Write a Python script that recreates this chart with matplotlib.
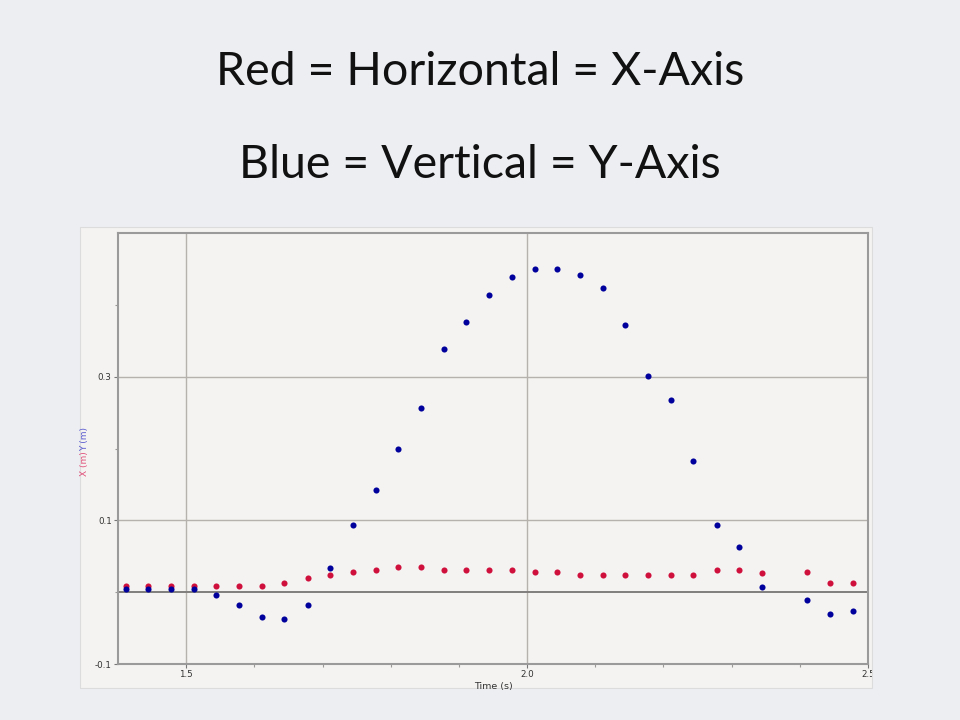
import matplotlib
matplotlib.use("Agg")
import matplotlib.pyplot as plt
from matplotlib.patches import Rectangle
from matplotlib.ticker import FixedLocator

# ---- data ----
time_s = [1.411, 1.444, 1.478, 1.511, 1.544, 1.578, 1.611, 1.644, 1.678, 1.711,
          1.744, 1.778, 1.811, 1.844, 1.878, 1.911, 1.944, 1.978, 2.011, 2.044,
          2.078, 2.111, 2.144, 2.178, 2.211, 2.244, 2.278, 2.311, 2.344, 2.411,
          2.444, 2.478]
x_m = [0.009, 0.009, 0.009, 0.009, 0.009, 0.009, 0.009, 0.013, 0.020, 0.024,
       0.028, 0.0315, 0.035, 0.035, 0.0315, 0.0315, 0.0315, 0.0315, 0.028, 0.028,
       0.024, 0.024, 0.024, 0.024, 0.024, 0.024, 0.0315, 0.0315, 0.027, 0.028,
       0.013, 0.013]
y_m = [0.004, 0.004, 0.004, 0.004, -0.004, -0.0185, -0.034, -0.037, -0.0185, 0.033,
       0.093, 0.142, 0.200, 0.256, 0.338, 0.376, 0.413, 0.439, 0.450, 0.450,
       0.442, 0.424, 0.372, 0.301, 0.268, 0.182, 0.093, 0.063, 0.007, -0.011,
       -0.030, -0.026]

x_major = [1.5, 2.0, 2.5]
x_minor = [1.6, 1.7, 1.8, 1.9, 2.1, 2.2, 2.3, 2.4]
y_major = [-0.1, 0.1, 0.3]
y_minor = [0.0, 0.2, 0.4]

title1 = "Red = Horizontal = X-Axis"
title2 = "Blue = Vertical = Y-Axis"

# ---- figure ----
fig = plt.figure(figsize=(9.6, 7.2), dpi=100)
fig.patch.set_facecolor("#eceef2")

panel = Rectangle((80 / 960, 1 - 688 / 720), 792 / 960, 461 / 720,
                  transform=fig.transFigure, facecolor="#f4f3f1",
                  edgecolor="#dcdcdc", linewidth=0.8, zorder=-10)
fig.patches.append(panel)

fig.text(0.5, 1 - 72 / 720, title1, ha="center", va="center",
         fontsize=33.5, family="Lato", color="#111111")
fig.text(0.5, 1 - 165 / 720, title2, ha="center", va="center",
         fontsize=33.5, family="Lato", color="#111111")

ax = fig.add_axes([118 / 960, 1 - 664 / 720, 750 / 960, 431 / 720])
ax.set_zorder(1)
ax.set_facecolor("#f4f3f1")
ax.set_xlim(1.4, 2.5)
ax.set_ylim(-0.1, 0.5)

for s in ax.spines.values():
    s.set_color("#9a9a9a")
    s.set_linewidth(1.5)

ax.xaxis.set_major_locator(FixedLocator(x_major))
ax.xaxis.set_minor_locator(FixedLocator(x_minor))
ax.yaxis.set_major_locator(FixedLocator(y_major))
ax.yaxis.set_minor_locator(FixedLocator(y_minor))
ax.set_xticklabels(["1.5", "2.0", "2.5"])
ax.set_yticklabels(["-0.1", "0.1", "0.3"])
ax.tick_params(which="major", length=3, width=0.8, color="#777777",
               labelsize=6.3, labelcolor="#333333", pad=1.5)
ax.tick_params(which="minor", length=2, width=0.8, color="#999999")

for v in [1.5, 2.0]:
    ax.axvline(v, color="#b5b2ae", linewidth=1.0, zorder=1)
for v in [0.1, 0.3]:
    ax.axhline(v, color="#b5b2ae", linewidth=1.0, zorder=1)
ax.axhline(0.0, color="#807e7c", linewidth=1.4, zorder=1)

ax.plot(time_s, x_m, linestyle="none", marker="o", markersize=4.4,
        color="#d0103c", markeredgewidth=0, zorder=3)
ax.plot(time_s, y_m, linestyle="none", marker="o", markersize=4.4,
        color="#00009c", markeredgewidth=0, zorder=4)

ax.set_xlabel("Time (s)", fontsize=6.8, color="#333333", labelpad=2)

fig.text(85 / 960, 1 - 439 / 720, "Y (m)", rotation=90, ha="center",
         va="center", fontsize=6.5, color="#5a5ad0")
fig.text(85 / 960, 1 - 464 / 720, "X (m)", rotation=90, ha="center",
         va="center", fontsize=6.5, color="#e0507a")

for lab in ax.get_xticklabels():
    lab.set_clip_path(panel)

fig.savefig("out.png", dpi=100, facecolor=fig.get_facecolor())
